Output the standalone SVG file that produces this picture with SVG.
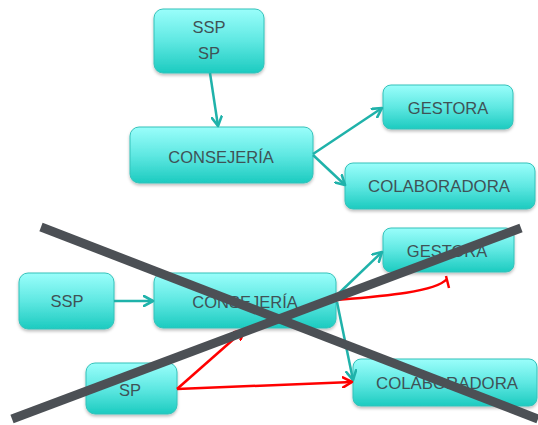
<svg xmlns="http://www.w3.org/2000/svg" width="538" height="425" viewBox="0 0 538 425">
<defs>
<linearGradient id="g" x1="0" y1="0" x2="0" y2="1">
<stop offset="0" stop-color="#9afefb"/>
<stop offset="0.5" stop-color="#5fe8e2"/>
<stop offset="1" stop-color="#1ccbc0"/>
</linearGradient>
<filter id="sh" x="-10%" y="-10%" width="120%" height="140%">
<feDropShadow dx="0" dy="2" stdDeviation="1.5" flood-color="#000" flood-opacity="0.25"/>
</filter>
<marker id="ta" viewBox="0 0 12 12" refX="10" refY="6" markerWidth="12" markerHeight="12" markerUnits="userSpaceOnUse" orient="auto">
<path d="M1,1 L10,6 L1,11" fill="none" stroke="#1fb2aa" stroke-width="2.6" stroke-linecap="round" stroke-linejoin="round"/>
</marker>
<marker id="ra" viewBox="0 0 12 12" refX="10" refY="6" markerWidth="12" markerHeight="12" markerUnits="userSpaceOnUse" orient="auto">
<path d="M1,1 L10,6 L1,11" fill="none" stroke="#f00" stroke-width="2.6" stroke-linecap="round" stroke-linejoin="round"/>
</marker>
</defs>
<style>
.box{fill:url(#g);stroke:#35c2ba;stroke-width:1;filter:url(#sh)}
.t{font-family:"Liberation Sans",Arial,sans-serif;font-size:16.5px;fill:#3f5256;text-anchor:middle}
.tc{fill:none;stroke:#1fb2aa;stroke-width:2.5;marker-end:url(#ta)}
.rc{fill:none;stroke:#f00;stroke-width:2.5}
.x{stroke:#4c5055;stroke-width:9;stroke-linecap:butt}
</style>
<rect width="538" height="425" fill="#fff"/>

<g id="top-ssp-sp"><rect class="box" x="154" y="9" width="110" height="64" rx="9"/><text class="t" x="209" y="33">SSP</text><text class="t" x="209" y="59">SP</text></g>
<g id="top-consejeria"><rect class="box" x="130" y="127" width="183" height="56" rx="9"/><text class="t" x="221" y="163">CONSEJERÍA</text></g>
<g id="top-gestora"><rect class="box" x="383" y="85" width="130" height="44" rx="8"/><text class="t" x="448" y="114">GESTORA</text></g>
<g id="top-colaboradora"><rect class="box" x="345" y="163" width="190" height="46" rx="8"/><text class="t" x="439" y="192" textLength="142" lengthAdjust="spacingAndGlyphs">COLABORADORA</text></g>

<g id="b-ssp"><rect class="box" x="19" y="273" width="95" height="56" rx="9"/><text class="t" x="67" y="307">SSP</text></g>
<g id="b-consejeria"><rect class="box" x="154" y="273" width="182" height="55" rx="9"/><text class="t" x="245" y="308">CONSEJERÍA</text></g>
<g id="b-gestora"><rect class="box" x="383" y="228" width="131" height="44" rx="8"/><text class="t" x="447" y="257">GESTORA</text></g>
<g id="b-colaboradora"><rect class="box" x="353" y="359" width="184" height="47" rx="8"/><text class="t" x="447" y="389" textLength="142" lengthAdjust="spacingAndGlyphs">COLABORADORA</text></g>
<g id="b-sp"><rect class="box" x="86" y="363" width="91" height="51" rx="9"/><text class="t" x="130" y="396">SP</text></g>

<g id="connectors">
<line class="tc" x1="210" y1="73" x2="218" y2="126"/>
<line class="tc" x1="313" y1="154" x2="382" y2="108"/>
<line class="tc" x1="313" y1="155" x2="345" y2="185"/>
<line class="tc" x1="114" y1="301" x2="153" y2="301"/>
<line class="tc" x1="336" y1="296" x2="382" y2="252"/>
<line class="tc" x1="337" y1="302" x2="353" y2="380"/>
<path class="rc" d="M337,300 C385,296 435,292 447,279"/>
<line class="rc" x1="446" y1="276" x2="449" y2="288"/>
<line class="rc" x1="177" y1="389" x2="244" y2="330" marker-end="url(#ra)"/>
<line class="rc" x1="177" y1="389" x2="352" y2="382" marker-end="url(#ra)"/>
</g>

<g id="cross">
<line class="x" x1="41" y1="227" x2="538" y2="419"/>
<line class="x" x1="12" y1="419" x2="521" y2="228"/>
</g>
</svg>
